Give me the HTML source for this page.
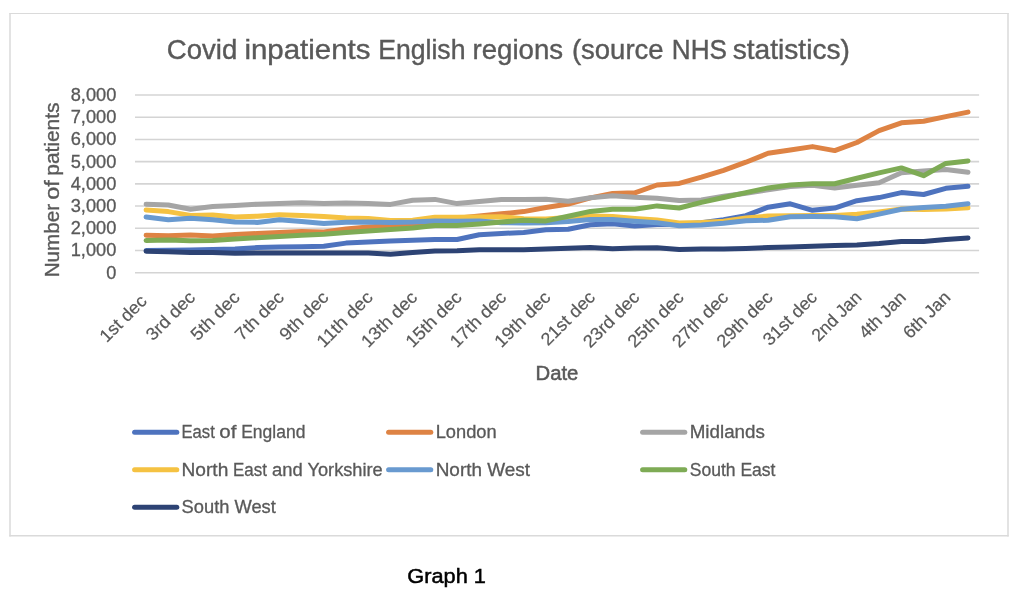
<!DOCTYPE html>
<html lang="en">
<head>
<meta charset="utf-8">
<title>Covid inpatients English regions</title>
<style>
html,body{margin:0;padding:0;background:#fff;}
body{width:1024px;height:601px;overflow:hidden;}
svg{display:block;}
text{font-family:"Liberation Sans",sans-serif;}
</style>
</head>
<body>
<svg width="1024" height="601" viewBox="0 0 1024 601">
<rect x="0" y="0" width="1024" height="601" fill="#ffffff"/>
<g stroke="#DADADA" fill="none"><line x1="9.3" y1="13.5" x2="1008.7" y2="13.5" stroke-width="1.1"/><line x1="9.3" y1="535.8" x2="1008.7" y2="535.8" stroke-width="1.4"/><line x1="10" y1="13" x2="10" y2="536.4" stroke-width="1.5"/><line x1="1008" y1="13" x2="1008" y2="536.4" stroke-width="1.5"/></g>
<g stroke="#D4D4D4" stroke-width="1.55" fill="none">
<line x1="135.0" y1="272.70" x2="979.1" y2="272.70"/>
<line x1="135.0" y1="250.49" x2="979.1" y2="250.49"/>
<line x1="135.0" y1="228.27" x2="979.1" y2="228.27"/>
<line x1="135.0" y1="206.06" x2="979.1" y2="206.06"/>
<line x1="135.0" y1="183.85" x2="979.1" y2="183.85"/>
<line x1="135.0" y1="161.64" x2="979.1" y2="161.64"/>
<line x1="135.0" y1="139.42" x2="979.1" y2="139.42"/>
<line x1="135.0" y1="117.21" x2="979.1" y2="117.21"/>
<line x1="135.0" y1="95.00" x2="979.1" y2="95.00"/>
</g>
<g fill="#595959" stroke="#595959" stroke-width="0.4" font-size="27.46">
<text y="58.5"><tspan x="166.8" textLength="70.5" lengthAdjust="spacingAndGlyphs">Covid</tspan> <tspan x="244.4" textLength="126.1" lengthAdjust="spacingAndGlyphs">inpatients</tspan> <tspan x="378.2" textLength="87.3" lengthAdjust="spacingAndGlyphs">English</tspan> <tspan x="472.5" textLength="90.7" lengthAdjust="spacingAndGlyphs">regions</tspan> <tspan x="571.9" textLength="91.7" lengthAdjust="spacingAndGlyphs">(source</tspan> <tspan x="671.8" textLength="55.2" lengthAdjust="spacingAndGlyphs">NHS</tspan> <tspan x="732.7" textLength="117.2" lengthAdjust="spacingAndGlyphs">statistics)</tspan></text>
</g>
<g fill="#595959" stroke="#595959" stroke-width="0.3" font-size="17.66" text-anchor="end">
<text x="116.3" y="278.60" textLength="10.1" lengthAdjust="spacingAndGlyphs">0</text>
<text x="116.3" y="256.39" textLength="45.6" lengthAdjust="spacingAndGlyphs">1,000</text>
<text x="116.3" y="234.17" textLength="45.6" lengthAdjust="spacingAndGlyphs">2,000</text>
<text x="116.3" y="211.96" textLength="45.6" lengthAdjust="spacingAndGlyphs">3,000</text>
<text x="116.3" y="189.75" textLength="45.6" lengthAdjust="spacingAndGlyphs">4,000</text>
<text x="116.3" y="167.54" textLength="45.6" lengthAdjust="spacingAndGlyphs">5,000</text>
<text x="116.3" y="145.32" textLength="45.6" lengthAdjust="spacingAndGlyphs">6,000</text>
<text x="116.3" y="123.11" textLength="45.6" lengthAdjust="spacingAndGlyphs">7,000</text>
<text x="116.3" y="100.90" textLength="45.6" lengthAdjust="spacingAndGlyphs">8,000</text>
</g>
<g fill="#595959" stroke="#595959" stroke-width="0.35" font-size="19.60">
<text transform="translate(58.5,0) rotate(-90)"><tspan x="-277.3" textLength="73.3" lengthAdjust="spacingAndGlyphs">Number</tspan> <tspan x="-199.7" textLength="19.5" lengthAdjust="spacingAndGlyphs">of</tspan> <tspan x="-175.7" textLength="73.1" lengthAdjust="spacingAndGlyphs">patients</tspan></text>
</g>
<text x="535.5" y="380" fill="#595959" stroke="#595959" stroke-width="0.5" font-size="19.60" textLength="42.8" lengthAdjust="spacingAndGlyphs">Date</text>
<g fill="#595959" stroke="#595959" stroke-width="0.2" font-size="17.66" text-anchor="end">
<text transform="translate(147.8,302.2) rotate(-45)" textLength="58.1" lengthAdjust="spacingAndGlyphs">1st dec</text>
<text transform="translate(196.2,298.4) rotate(-45)" textLength="61.1" lengthAdjust="spacingAndGlyphs">3rd dec</text>
<text transform="translate(240.7,298.4) rotate(-45)" textLength="60.8" lengthAdjust="spacingAndGlyphs">5th dec</text>
<text transform="translate(285.1,298.4) rotate(-45)" textLength="60.8" lengthAdjust="spacingAndGlyphs">7th dec</text>
<text transform="translate(329.5,298.4) rotate(-45)" textLength="60.8" lengthAdjust="spacingAndGlyphs">9th dec</text>
<text transform="translate(373.9,298.4) rotate(-45)" textLength="70.9" lengthAdjust="spacingAndGlyphs">11th dec</text>
<text transform="translate(418.4,298.4) rotate(-45)" textLength="70.9" lengthAdjust="spacingAndGlyphs">13th dec</text>
<text transform="translate(462.8,298.4) rotate(-45)" textLength="70.9" lengthAdjust="spacingAndGlyphs">15th dec</text>
<text transform="translate(507.2,298.4) rotate(-45)" textLength="70.9" lengthAdjust="spacingAndGlyphs">17th dec</text>
<text transform="translate(551.6,298.4) rotate(-45)" textLength="70.9" lengthAdjust="spacingAndGlyphs">19th dec</text>
<text transform="translate(596.1,298.4) rotate(-45)" textLength="68.2" lengthAdjust="spacingAndGlyphs">21st dec</text>
<text transform="translate(640.5,298.4) rotate(-45)" textLength="71.2" lengthAdjust="spacingAndGlyphs">23rd dec</text>
<text transform="translate(684.9,298.4) rotate(-45)" textLength="70.9" lengthAdjust="spacingAndGlyphs">25th dec</text>
<text transform="translate(729.3,298.4) rotate(-45)" textLength="70.9" lengthAdjust="spacingAndGlyphs">27th dec</text>
<text transform="translate(773.8,298.4) rotate(-45)" textLength="70.9" lengthAdjust="spacingAndGlyphs">29th dec</text>
<text transform="translate(818.2,298.4) rotate(-45)" textLength="68.2" lengthAdjust="spacingAndGlyphs">31st dec</text>
<text transform="translate(862.6,298.4) rotate(-45)" textLength="62.1" lengthAdjust="spacingAndGlyphs">2nd Jan</text>
<text transform="translate(907.1,298.4) rotate(-45)" textLength="58.3" lengthAdjust="spacingAndGlyphs">4th Jan</text>
<text transform="translate(951.5,298.4) rotate(-45)" textLength="58.3" lengthAdjust="spacingAndGlyphs">6th Jan</text>
</g>
<g fill="none" stroke-width="5" stroke-linecap="round" stroke-linejoin="round">
<polyline stroke="#4E73BE" points="146.1,250.4 168.3,250.2 190.5,249.9 212.7,249.6 235.0,248.9 257.2,247.6 279.4,247.1 301.6,246.8 323.8,246.3 346.0,243.1 368.2,241.9 390.5,241.1 412.7,240.2 434.9,239.4 457.1,239.5 479.3,234.7 501.5,233.4 523.7,232.5 545.9,229.7 568.2,229.2 590.4,224.7 612.6,223.7 634.8,225.9 657.0,224.5 679.2,224.3 701.4,222.7 723.6,219.8 745.9,215.7 768.1,207.2 790.3,203.8 812.5,210.3 834.7,208.1 856.9,200.7 879.1,197.6 901.4,192.6 923.6,194.5 945.8,188.3 968.0,186.2"/>
<polyline stroke="#DE8344" points="146.1,235.2 168.3,235.8 190.5,234.9 212.7,236.0 235.0,234.5 257.2,233.5 279.4,232.4 301.6,231.6 323.8,232.0 346.0,229.0 368.2,227.0 390.5,225.4 412.7,223.8 434.9,221.6 457.1,218.3 479.3,216.1 501.5,213.8 523.7,211.6 545.9,207.5 568.2,204.0 590.4,197.9 612.6,193.4 634.8,192.8 657.0,185.0 679.2,183.4 701.4,177.2 723.6,170.4 745.9,162.2 768.1,153.3 790.3,150.0 812.5,146.6 834.7,150.6 856.9,142.5 879.1,130.6 901.4,122.8 923.6,121.2 945.8,116.6 968.0,112.1"/>
<polyline stroke="#A5A5A5" points="146.1,204.3 168.3,205.0 190.5,209.2 212.7,206.6 235.0,205.4 257.2,204.2 279.4,203.4 301.6,202.8 323.8,203.6 346.0,203.0 368.2,203.5 390.5,204.4 412.7,200.3 434.9,199.4 457.1,203.6 479.3,201.4 501.5,199.4 523.7,199.4 545.9,199.3 568.2,201.3 590.4,197.7 612.6,195.8 634.8,197.3 657.0,198.2 679.2,200.6 701.4,200.0 723.6,196.2 745.9,193.2 768.1,189.7 790.3,186.5 812.5,185.3 834.7,188.1 856.9,185.3 879.1,182.8 901.4,172.7 923.6,171.0 945.8,169.5 968.0,172.3"/>
<polyline stroke="#F5C242" points="146.1,209.9 168.3,211.6 190.5,215.4 212.7,214.9 235.0,217.0 257.2,216.2 279.4,214.7 301.6,215.4 323.8,216.5 346.0,218.1 368.2,218.4 390.5,220.6 412.7,220.3 434.9,217.3 457.1,217.3 479.3,217.1 501.5,216.7 523.7,218.7 545.9,219.0 568.2,217.6 590.4,215.9 612.6,216.5 634.8,218.4 657.0,220.1 679.2,223.1 701.4,222.5 723.6,221.3 745.9,217.9 768.1,216.1 790.3,215.7 812.5,215.5 834.7,215.5 856.9,214.3 879.1,211.9 901.4,209.0 923.6,209.4 945.8,209.0 968.0,207.8"/>
<polyline stroke="#699AD0" points="146.1,217.1 168.3,219.8 190.5,218.2 212.7,219.8 235.0,221.9 257.2,222.4 279.4,219.8 301.6,221.5 323.8,223.5 346.0,222.2 368.2,222.1 390.5,222.6 412.7,222.1 434.9,221.1 457.1,221.2 479.3,220.9 501.5,222.7 523.7,222.9 545.9,222.7 568.2,221.6 590.4,219.6 612.6,219.6 634.8,221.2 657.0,222.7 679.2,225.7 701.4,224.9 723.6,223.2 745.9,220.7 768.1,220.3 790.3,216.7 812.5,216.5 834.7,216.7 856.9,218.7 879.1,214.1 901.4,209.3 923.6,207.4 945.8,206.2 968.0,203.7"/>
<polyline stroke="#7EAB55" points="146.1,240.4 168.3,240.0 190.5,240.8 212.7,240.6 235.0,239.1 257.2,237.8 279.4,236.4 301.6,235.3 323.8,234.2 346.0,232.5 368.2,230.9 390.5,229.4 412.7,228.1 434.9,225.4 457.1,225.4 479.3,223.9 501.5,222.1 523.7,220.2 545.9,220.9 568.2,216.3 590.4,211.4 612.6,209.3 634.8,209.3 657.0,205.9 679.2,208.0 701.4,202.4 723.6,197.5 745.9,192.6 768.1,187.9 790.3,184.9 812.5,183.7 834.7,183.7 856.9,178.3 879.1,172.9 901.4,167.9 923.6,175.7 945.8,163.4 968.0,160.9"/>
<polyline stroke="#2D4374" points="146.1,251.3 168.3,251.8 190.5,252.4 212.7,252.6 235.0,253.2 257.2,252.9 279.4,252.9 301.6,252.9 323.8,252.9 346.0,252.9 368.2,252.9 390.5,254.2 412.7,252.4 434.9,250.9 457.1,250.7 479.3,249.8 501.5,249.8 523.7,249.8 545.9,249.1 568.2,248.3 590.4,247.5 612.6,248.8 634.8,247.9 657.0,247.7 679.2,249.6 701.4,249.1 723.6,249.0 745.9,248.4 768.1,247.6 790.3,246.9 812.5,246.2 834.7,245.5 856.9,245.0 879.1,243.6 901.4,241.6 923.6,241.6 945.8,239.5 968.0,237.9"/>
</g>
<g stroke-width="5" stroke-linecap="round" fill="none">
<line x1="134.6" y1="432.3" x2="176.8" y2="432.3" stroke="#4E73BE"/>
<line x1="388.6" y1="432.3" x2="430.8" y2="432.3" stroke="#DE8344"/>
<line x1="642.6" y1="432.3" x2="684.8" y2="432.3" stroke="#A5A5A5"/>
<line x1="134.6" y1="469.8" x2="176.8" y2="469.8" stroke="#F5C242"/>
<line x1="388.6" y1="469.8" x2="430.8" y2="469.8" stroke="#699AD0"/>
<line x1="642.6" y1="469.8" x2="684.8" y2="469.8" stroke="#7EAB55"/>
<line x1="134.6" y1="507.3" x2="176.8" y2="507.3" stroke="#2D4374"/>
</g>
<g fill="#595959" stroke="#595959" stroke-width="0.3" font-size="17.66">
<text y="438.3"><tspan x="181.5" textLength="33.3" lengthAdjust="spacingAndGlyphs">East</tspan> <tspan x="219.3" textLength="17.1" lengthAdjust="spacingAndGlyphs">of</tspan> <tspan x="241.2" textLength="64.2" lengthAdjust="spacingAndGlyphs">England</tspan></text>
<text x="435.7" y="438.3" textLength="61.0" lengthAdjust="spacingAndGlyphs">London</text>
<text x="689.7" y="438.3" textLength="75.2" lengthAdjust="spacingAndGlyphs">Midlands</text>
<text y="475.8"><tspan x="181.5" textLength="46.8" lengthAdjust="spacingAndGlyphs">North</tspan> <tspan x="233.0" textLength="33.9" lengthAdjust="spacingAndGlyphs">East</tspan> <tspan x="272.0" textLength="30.7" lengthAdjust="spacingAndGlyphs">and</tspan> <tspan x="307.5" textLength="75.2" lengthAdjust="spacingAndGlyphs">Yorkshire</tspan></text>
<text x="435.7" y="475.8" textLength="94.4" lengthAdjust="spacingAndGlyphs">North West</text>
<text x="689.7" y="475.8" textLength="85.8" lengthAdjust="spacingAndGlyphs">South East</text>
<text x="181.6" y="513.3" textLength="94.2" lengthAdjust="spacingAndGlyphs">South West</text>
</g>
<text x="407.3" y="582.8" fill="#000000" stroke="#000000" stroke-width="0.5" font-size="20.31" textLength="78.6" lengthAdjust="spacingAndGlyphs">Graph 1</text>
</svg>
</body>
</html>
